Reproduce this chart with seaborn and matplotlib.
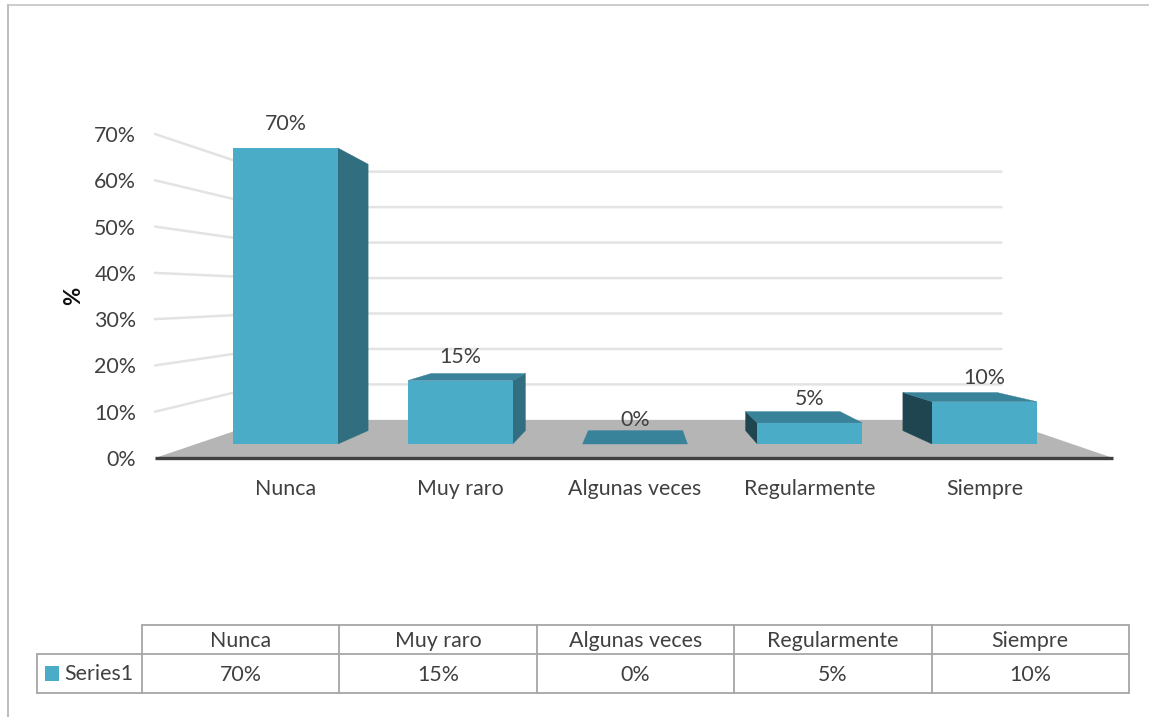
import numpy as np
import pandas as pd
import matplotlib
matplotlib.use("Agg")
import matplotlib.pyplot as plt
from matplotlib.patches import Polygon, Rectangle
from matplotlib.transforms import IdentityTransform
import seaborn as sns

categories = ["Nunca", "Muy raro", "Algunas veces", "Regularmente", "Siempre"]
series_name = "Series1"
values = [70, 15, 0, 5, 10]
wall_ticks = [0, 10, 20, 30, 40, 50, 60, 70]
y_label = "%"

W, H = 1149, 717
TXT = "#404040"
FRONT = "#4AACC6"
TOP = "#38829A"
RIGHT = "#316E80"
LEFT = "#1F4550"
FLOOR = "#B5B5B5"
GRID = "#E3E3E3"
FONT = 15.4

sns.set_theme(style="white")
plt.rcParams["font.family"] = ["Lato", "DejaVu Sans"]
plt.rcParams["text.color"] = TXT

fig = plt.figure(figsize=(W / 100, H / 100), dpi=100, facecolor="white")


def axes_px(x0, y_top, x1, y_bottom, **kw):
    return fig.add_axes([x0 / W, 1 - y_bottom / H, (x1 - x0) / W, (y_bottom - y_top) / H], **kw)


def project(pts, vp, s):
    pts = np.asarray(pts, dtype=float)
    vp = np.asarray(vp, dtype=float)
    return vp + s * (pts - vp)


# Wall / floor axes: carries the percent scale
wall = axes_px(155, 134, 1113, 458, zorder=0)
wall.set_xlim(0, 1)
wall.set_ylim(min(wall_ticks), max(wall_ticks))
wall.set_xticks([])
wall.set_yticks(wall_ticks, [f"{t}%" for t in wall_ticks])
wall.tick_params(axis="y", length=0, pad=13.5, labelsize=FONT, labelcolor=TXT)
wall.set_ylabel(y_label, fontsize=16, fontweight="bold", color="#111111", labelpad=7)
sns.despine(ax=wall, left=True, right=True, top=True, bottom=True)
wall.patch.set_alpha(0)
fig.canvas.draw()

WALL_VP, WALL_S = (636, H - 295), 0.766
corner = wall.transData.transform
for t in wall_ticks:
    fl, fr = corner((0, t)), corner((1, t))
    bl, br = project(fl, WALL_VP, WALL_S), project(fr, WALL_VP, WALL_S)
    if t == 0:
        wall.add_patch(Polygon([fl, fr, br, bl], closed=True, fc=FLOOR, ec="none",
                               transform=IdentityTransform(), clip_on=False, zorder=1))
        wall.plot(*zip(fl, fr), transform=IdentityTransform(), color="#404040", lw=2.4,
                  clip_on=False, zorder=3, solid_capstyle="butt")
    else:
        wall.plot([fl[0], bl[0], br[0]], [fl[1], bl[1], br[1]], transform=IdentityTransform(),
                  color=GRID, lw=1.8, clip_on=False, zorder=0.5, solid_joinstyle="miter")

# Bars
df = pd.DataFrame({"categoria": categories, "valor": values})
ax = axes_px(198.1, 148, 1071.9, 444, zorder=1)
sns.barplot(data=df, x="categoria", y="valor", color=FRONT, saturation=1, width=0.6,
            linewidth=0, ax=ax)
ax.set_xlim(-0.5, len(categories) - 0.5)
ax.set_ylim(0, max(values))
ax.set_xlabel("")
ax.set_ylabel("")
ax.set_yticks([])
ax.tick_params(axis="x", length=0, pad=25.5, labelsize=FONT, labelcolor=TXT)
sns.despine(ax=ax, left=True, right=True, top=True, bottom=True)
ax.patch.set_alpha(0)
fig.canvas.draw()

BAR_VP, BAR_S = (640, H - 310), 0.9
for container in ax.containers:
    for bar in container:
        x, y = bar.get_xy()
        w, h = bar.get_width(), bar.get_height()
        fbl = ax.transData.transform((x, y))
        fbr = ax.transData.transform((x + w, y))
        ftr = ax.transData.transform((x + w, y + h))
        ftl = ax.transData.transform((x, y + h))
        bbl, bbr, btr, btl = [project(p, BAR_VP, BAR_S) for p in (fbl, fbr, ftr, ftl)]
        faces = []
        if bbr[0] > fbr[0]:
            faces.append(([fbr, ftr, btr, bbr], RIGHT))
        if bbl[0] < fbl[0]:
            faces.append(([fbl, ftl, btl, bbl], LEFT))
        if btr[1] > ftr[1]:
            faces.append(([ftl, ftr, btr, btl], TOP))
        for poly, col in faces:
            ax.add_patch(Polygon(poly, closed=True, fc=col, ec=col, lw=0.3,
                                 transform=IdentityTransform(), clip_on=False, zorder=0.6))
    ax.bar_label(container, labels=[f"{v}%" for v in values], padding=9.8,
                 fontsize=FONT, color=TXT, clip_on=False)

# Data table and chart border, on a pixel-scaled overlay
ov = fig.add_axes([0, 0, 1, 1], zorder=2)
ov.set_xlim(0, W)
ov.set_ylim(H, 0)
ov.axis("off")

LINE = "#A6A6A6"
col_edges = np.linspace(142, 1129, len(categories) + 1)
rows = (625, 654, 692.5)
ov.plot([col_edges[0], col_edges[-1]], [rows[0], rows[0]], color=LINE, lw=1.3)
ov.plot([37, col_edges[-1]], [rows[1], rows[1]], color=LINE, lw=1.3)
ov.plot([37, col_edges[-1]], [rows[2], rows[2]], color=LINE, lw=1.3)
ov.plot([37, 37], [rows[1], rows[2]], color=LINE, lw=1.3)
for e in col_edges:
    ov.plot([e, e], [rows[0], rows[2]], color=LINE, lw=1.3)
for i, (c, v) in enumerate(zip(categories, values)):
    xc = (col_edges[i] + col_edges[i + 1]) / 2
    ov.text(xc, (rows[0] + rows[1]) / 2 + 1.5, c, ha="center", va="center", fontsize=FONT)
    ov.text(xc, (rows[1] + rows[2]) / 2 + 1.5, f"{v}%", ha="center", va="center", fontsize=FONT)
ov.add_patch(Rectangle((45, 666), 14, 14.5, fc=FRONT, ec="none"))
ov.text(64, (rows[1] + rows[2]) / 2 + 1, series_name, ha="left", va="center", fontsize=FONT)

ov.plot([7.5, W], [4.5, 4.5], color="#BFBFBF", lw=1.1)
ov.plot([7.5, 7.5], [4.5, H], color="#BFBFBF", lw=1.5)

fig.savefig("out.png", dpi=100)
